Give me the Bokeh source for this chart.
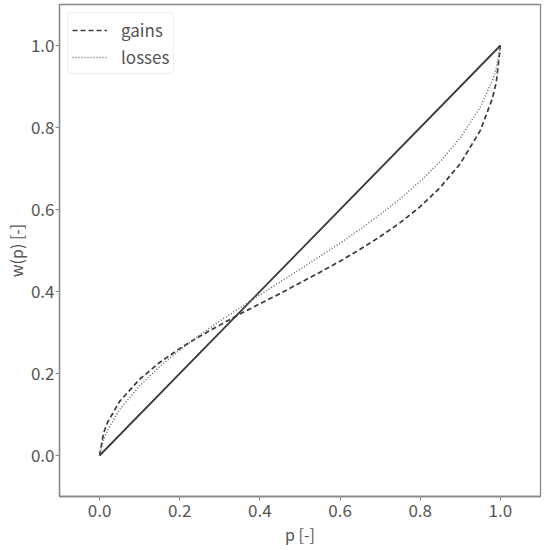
from bokeh.plotting import figure
from bokeh.models import Range1d, FixedTicker, Legend, LegendItem
from bokeh.embed import file_html
from bokeh.resources import INLINE

# values
p_vals = [0.0, 0.01, 0.02, 0.05, 0.10, 0.15, 0.20, 0.25, 0.30, 0.35, 0.40, 0.45,
          0.50, 0.55, 0.60, 0.65, 0.70, 0.75, 0.80, 0.85, 0.90, 0.95, 0.98, 0.99, 1.0]
gains = [0.0, 0.055, 0.081, 0.132, 0.186, 0.227, 0.261, 0.291, 0.318, 0.345, 0.370, 0.395,
         0.421, 0.447, 0.474, 0.503, 0.534, 0.568, 0.607, 0.654, 0.712, 0.793, 0.871, 0.912, 1.0]
losses = [0.0, 0.040, 0.062, 0.112, 0.170, 0.217, 0.257, 0.294, 0.328, 0.360, 0.392, 0.423,
          0.454, 0.486, 0.518, 0.552, 0.588, 0.626, 0.669, 0.717, 0.775, 0.850, 0.915, 0.945, 1.0]
diag_x = [0.0, 1.0]
diag_y = [0.0, 1.0]
ticks = [0.0, 0.2, 0.4, 0.6, 0.8, 1.0]
tick_labels = {0.0: "0.0", 0.2: "0.2", 0.4: "0.4", 0.6: "0.6", 0.8: "0.8", 1.0: "1.0"}

FONT = "Noto Sans CJK JP"
TXT = "#555555"

p = figure(frame_width=481, frame_height=492, output_backend="svg", toolbar_location=None,
           x_range=Range1d(-0.1, 1.1), y_range=Range1d(-0.1, 1.1),
           min_border_left=0, min_border_right=4, min_border_top=4, min_border_bottom=0)
p.xgrid.visible = False
p.ygrid.visible = False
p.outline_line_color = "#888888"
p.outline_line_width = 1.3

for ax in (p.xaxis[0], p.yaxis[0]):
    ax.ticker = FixedTicker(ticks=ticks)
    ax.major_label_overrides = tick_labels
    ax.minor_tick_line_color = None
    ax.major_tick_out = 4
    ax.major_tick_in = 0
    ax.major_tick_line_color = "#888888"
    ax.axis_line_color = "#888888"
    ax.axis_line_width = 1.3
    ax.major_label_text_font = FONT
    ax.major_label_text_font_size = "17px"
    ax.major_label_text_color = TXT
    ax.axis_label_text_font = FONT
    ax.axis_label_text_font_size = "16px"
    ax.axis_label_text_font_style = "normal"
    ax.axis_label_text_color = TXT

p.xaxis.major_label_standoff = 3
p.yaxis.major_label_standoff = 1
p.xaxis.axis_label_standoff = 2
p.yaxis.axis_label_standoff = 0
p.xaxis.axis_label = "p [-]"
p.yaxis.axis_label = "w(p) [-]"

r_diag = p.line(diag_x, diag_y, line_color="#3a3a3a", line_width=1.8)
r_g = p.line(p_vals, gains, line_color="#3a3a3a", line_width=1.7, line_dash="5 3")
r_l = p.line(p_vals, losses, line_color="#666666", line_width=1.5, line_dash="1 2")

legend = Legend(items=[LegendItem(label="gains", renderers=[r_g]),
                       LegendItem(label="losses", renderers=[r_l])],
                location="top_left")
legend.label_text_font = FONT
legend.label_text_font_size = "17px"
legend.label_text_color = TXT
legend.border_line_color = "#dddddd"
legend.border_line_width = 1
legend.border_radius = 4
legend.glyph_width = 35
legend.label_standoff = 14
legend.label_height = 22
legend.glyph_height = 22
legend.spacing = 2
legend.padding = 4
legend.margin = 8
p.add_layout(legend)

open("out.html", "w").write(file_html(p, INLINE))
